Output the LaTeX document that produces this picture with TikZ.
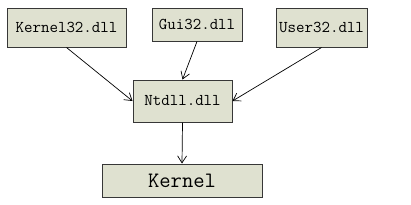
\documentclass[tikz,border=0pt]{standalone}
\usetikzlibrary{arrows.meta}

\definecolor{boxfill}{RGB}{223,225,208}
\definecolor{boxline}{RGB}{55,55,55}

\tikzset{
	dllbox/.style={draw=boxline, fill=boxfill, line width=1pt, inner sep=0pt,
		font=\ttfamily\fontsize{16.5}{18}\selectfont},
	link/.style={line width=0.7pt, black, -{Straight Barb[length=7pt,width=9pt]}}
}

\begin{document}
\begin{tikzpicture}[x=1pt,y=-1pt]
		\useasboundingbox (0,0) rectangle (411,204);
		\node[dllbox, minimum width=119pt, minimum height=39pt] (kernel32) at (66.5,27.5) {Kernel32.dll};
		\node[dllbox, minimum width=90pt, minimum height=33pt] (gui32) at (197,24.5) {Gui32.dll};
		\node[dllbox, minimum width=91pt, minimum height=39pt] (user32) at (321.5,27.5) {User32.dll};
		\node[dllbox, minimum width=99pt, minimum height=42pt] (ntdll) at (182.5,101) {Ntdll.dll};
		\node[dllbox, minimum width=160pt, minimum height=33pt,
			font=\ttfamily\fontsize{22}{24}\selectfont] (kernel) at (182,180.5) {Kernel};
		\draw[link] (kernel32.south) -- (ntdll.west);
		\draw[link] (gui32.south) -- (ntdll.north);
		\draw[link] (user32.south) -- (ntdll.east);
		\draw[link] (ntdll.south) -- (kernel.north);
	\end{tikzpicture}
\end{document}
